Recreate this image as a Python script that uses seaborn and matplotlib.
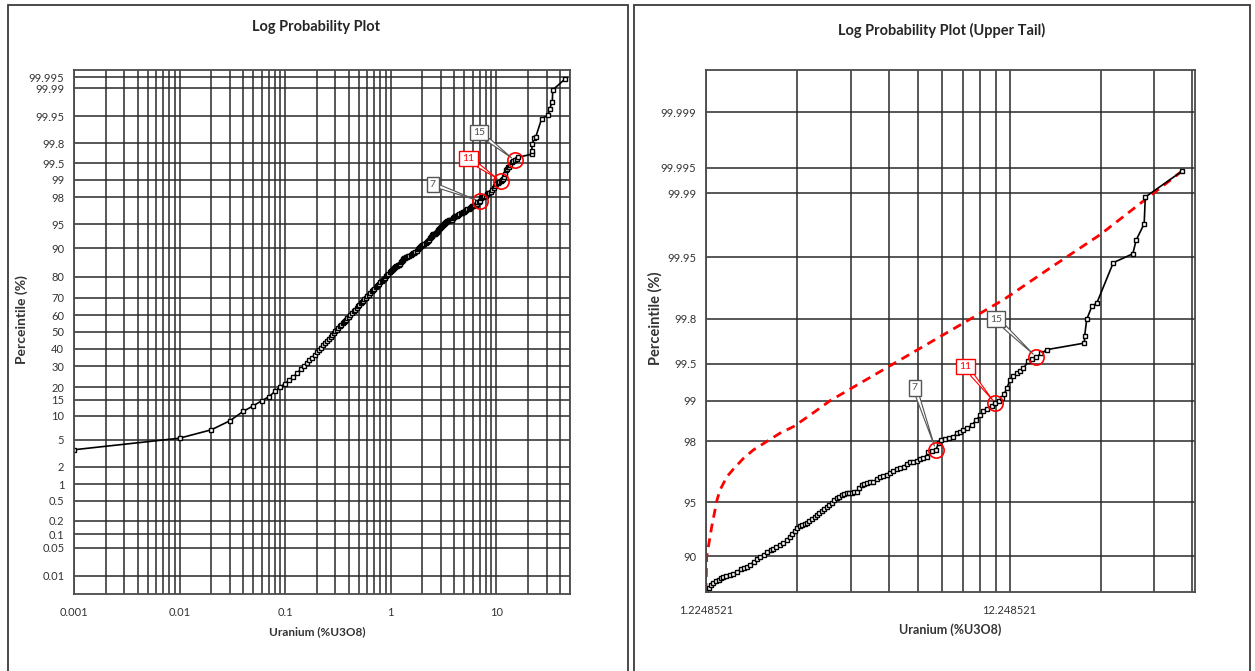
import math
import numpy as np
import matplotlib
matplotlib.use("Agg")
import matplotlib.pyplot as plt
from matplotlib.patches import Rectangle
from matplotlib.ticker import FixedLocator, FixedFormatter, NullLocator, NullFormatter
import seaborn as sns

# ---------------- data ----------------
# Uranium grade (%U3O8) and its cumulative percentile
grade = [
    0.001, 0.01, 0.02, 0.03, 0.04, 0.05, 0.06, 0.07, 0.08, 0.09, 0.10,
    0.11, 0.12, 0.13, 0.14, 0.15, 0.16, 0.17, 0.18, 0.19, 0.20,
    0.21, 0.22, 0.23, 0.24, 0.25, 0.26, 0.27, 0.28, 0.29, 0.30,
    0.31, 0.32, 0.33, 0.34, 0.35, 0.36, 0.37, 0.38, 0.39, 0.40,
    0.415, 0.43, 0.445, 0.46, 0.475, 0.49, 0.505, 0.52, 0.535, 0.55,
    0.565, 0.58, 0.60, 0.62, 0.64, 0.66, 0.68, 0.70, 0.72, 0.74,
    0.76, 0.78, 0.80, 0.82, 0.84, 0.86, 0.88, 0.90, 0.925, 0.95,
    0.975, 1.00, 1.025, 1.05, 1.075, 1.10, 1.125, 1.15, 1.175, 1.20,
    1.2248521, 1.25, 1.27, 1.295, 1.32, 1.35, 1.37, 1.397, 1.43, 1.47,
    1.507, 1.55, 1.60, 1.635, 1.668, 1.71, 1.76, 1.80, 1.845, 1.90,
    1.95, 2.00, 2.042, 2.09, 2.14, 2.20, 2.26, 2.31, 2.36, 2.40,
    2.438, 2.49, 2.54, 2.59, 2.63, 2.68, 2.74, 2.79, 2.837, 2.89,
    2.95, 3.00, 3.061, 3.12, 3.18, 3.24, 3.302, 3.37, 3.44, 3.50,
    3.563, 3.63, 3.70, 3.77, 3.843, 3.91, 3.99, 4.07, 4.16, 4.26,
    4.358, 4.47, 4.59, 4.70, 4.823, 4.93, 5.06, 5.20, 5.34, 5.48,
    5.62, 5.757, 5.90, 6.05, 6.20, 6.37, 6.54, 6.62, 6.80, 7.0,
    7.15, 7.30, 7.50, 7.72, 8.0, 8.2, 8.40, 8.63, 8.90, 9.19,
    9.50, 9.80, 10.05, 10.3, 10.7, 11.0, 11.27, 11.54, 11.77, 12.0,
    12.29, 12.6, 12.94, 13.25, 13.6, 14.1, 14.55, 15.0, 15.6, 16.25,
    21.6, 21.65, 22.0, 22.86, 23.74, 26.9, 31.2, 32.0, 34.0, 34.3, 45.2,
]
percentile = [
    3.61, 5.25, 6.77, 8.77, 11.26, 13.0, 14.7, 16.1, 18.2, 20.2, 21.5,
    23.3, 24.8, 26.4, 28.4, 30.2, 31.9, 33.4, 34.8, 36.3, 37.8,
    39.1, 40.5, 41.9, 43.2, 44.4, 45.6, 46.8, 48.0, 49.2, 50.4,
    51.4, 52.4, 53.4, 54.4, 55.2, 56.0, 56.8, 57.5, 58.3, 59.1,
    60.3, 61.4, 62.4, 63.3, 64.3, 65.2, 66.1, 67.0, 67.7, 68.4,
    69.1, 69.8, 70.7, 71.6, 72.4, 73.2, 73.9, 74.5, 75.2, 75.8,
    76.4, 77.0, 77.6, 78.2, 78.7, 79.1, 79.7, 80.2, 80.8, 81.3,
    81.9, 82.4, 82.8, 83.1, 83.5, 83.9, 84.2, 84.4, 84.6, 84.8,
    85.10, 85.76, 86.10, 86.39, 86.69, 86.96, 87.18, 87.32, 87.49, 87.65,
    87.79, 88.05, 88.35, 88.53, 88.68, 88.96, 89.30, 89.61, 89.91, 90.18,
    90.49, 90.69, 90.87, 91.07, 91.23, 91.43, 91.75, 92.10, 92.39, 92.67,
    92.89, 93.08, 93.18, 93.27, 93.34, 93.51, 93.69, 93.88, 94.02, 94.17,
    94.35, 94.50, 94.66, 94.82, 94.97, 95.12, 95.25, 95.37, 95.46, 95.53,
    95.57, 95.60, 95.62, 95.64, 95.67, 95.89, 96.07, 96.13, 96.18, 96.22,
    96.25, 96.39, 96.52, 96.56, 96.61, 96.69, 96.80, 96.89, 96.94, 97.02,
    97.13, 97.20, 97.24, 97.28, 97.33, 97.37, 97.44, 97.63, 97.67, 97.70,
    97.93, 98.04, 98.07, 98.10, 98.14, 98.24, 98.29, 98.33, 98.39, 98.47,
    98.59, 98.71, 98.79, 98.85, 98.90, 98.95, 99.00, 99.04, 99.12, 99.20,
    99.32, 99.36, 99.40, 99.42, 99.45, 99.52, 99.54, 99.56, 99.59, 99.62,
    99.667, 99.713, 99.797, 99.846, 99.857, 99.943, 99.954, 99.967, 99.978, 99.989, 99.9945,
]

# reference curve for the upper tail
ref_grade = [1.2248521, 1.231, 1.279, 1.331, 1.362, 1.434, 1.507, 1.623, 1.754,
             1.941, 2.148, 2.377, 2.697, 3.14, 4.59, 7.23, 11.69, 16.66, 24.34,
             34.8, 45.2]
ref_percentile = [85.10, 89.92, 93.04, 95.13, 95.78, 96.52, 96.90, 97.36, 97.70,
                  97.99, 98.25, 98.43, 98.71, 99.00, 99.417, 99.708, 99.867,
                  99.9355, 99.9711, 99.9887, 99.9945]

# highlighted cut-off grades
callout_grade = [7.0, 11.0, 15.0]
callout_text = ["7", "11", "15"]

tail_start = 1.2248521

left_yticks = [0.01, 0.05, 0.1, 0.2, 0.5, 1, 2, 5, 10, 15, 20, 30, 40, 50,
               60, 70, 80, 90, 95, 98, 99, 99.5, 99.8, 99.95, 99.99, 99.995]
left_yticklabels = ["0.01", "0.05", "0.1", "0.2", "0.5", "1", "2", "5", "10",
                    "15", "20", "30", "40", "50", "60", "70", "80", "90", "95",
                    "98", "99", "99.5", "99.8", "99.95", "99.99", "99.995"]
left_xticks = [0.001, 0.01, 0.1, 1, 10]
left_xticklabels = ["0.001", "0.01", "0.1", "1", "10"]

right_yticks = [90, 95, 98, 99, 99.5, 99.8, 99.95, 99.99, 99.995, 99.999]
right_yticklabels = ["90", "95", "98", "99", "99.5", "99.8", "99.95",
                     "99.99", "99.995", "99.999"]
right_xticklabels = ["1.2248521", "12.248521"]

# ---------------- normal probability scale ----------------
_A = (-3.969683028665376e+01, 2.209460984245205e+02, -2.759285104469687e+02,
      1.383577518672690e+02, -3.066479806614716e+01, 2.506628277459239e+00)
_B = (-5.447609879822406e+01, 1.615858368580409e+02, -1.556989798598866e+02,
      6.680131188771972e+01, -1.328068155288572e+01)
_C = (-7.784894002430293e-03, -3.223964580411365e-01, -2.400758277161838e+00,
      -2.549732539343734e+00, 4.374664141464968e+00, 2.938163982698783e+00)
_D = (7.784695709041462e-03, 3.224671290700398e-01, 2.445134137142996e+00,
      3.754408661907416e+00)


def _ppf(p):
    plow = 0.02425
    if p < plow:
        q = math.sqrt(-2 * math.log(p))
        return ((((((_C[0] * q + _C[1]) * q + _C[2]) * q + _C[3]) * q + _C[4]) * q + _C[5]) /
                ((((_D[0] * q + _D[1]) * q + _D[2]) * q + _D[3]) * q + 1))
    if p > 1 - plow:
        q = math.sqrt(-2 * math.log(1 - p))
        return -((((((_C[0] * q + _C[1]) * q + _C[2]) * q + _C[3]) * q + _C[4]) * q + _C[5]) /
                 ((((_D[0] * q + _D[1]) * q + _D[2]) * q + _D[3]) * q + 1))
    q = p - 0.5
    r = q * q
    return ((((((_A[0] * r + _A[1]) * r + _A[2]) * r + _A[3]) * r + _A[4]) * r + _A[5]) * q /
            (((((_B[0] * r + _B[1]) * r + _B[2]) * r + _B[3]) * r + _B[4]) * r + 1))


_ppf_vec = np.vectorize(_ppf, otypes=[float])
_erfc_vec = np.vectorize(math.erfc, otypes=[float])


def probit(pct):
    p = np.clip(np.asarray(pct, dtype=float) / 100.0, 1e-12, 1 - 1e-12)
    return _ppf_vec(p)


def inv_probit(z):
    z = np.asarray(z, dtype=float)
    return 50.0 * _erfc_vec(-z / math.sqrt(2.0))


# ---------------- figure ----------------
sns.set_style("white")
plt.rcParams["font.family"] = ["Lato", "DejaVu Sans"]

W, H = 1255, 671
fig = plt.figure(figsize=(W / 100, H / 100), dpi=100)


def px_axes(x0, y0, x1, y1):
    return fig.add_axes([x0 / W, 1 - y1 / H, (x1 - x0) / W, (y1 - y0) / H])


ax_l = px_axes(74, 70, 570, 594)
ax_r = px_axes(706, 70, 1195, 592)

GRID = "#2a2a2a"
TICK_COLOR = "#333333"


def style_axes(ax, xlim, ylim, xmajor, xlabels, xminor, yticks, ylabels):
    ax.set_xscale("log")
    ax.set_yscale("function", functions=(probit, inv_probit))
    ax.set_xlim(*xlim)
    ax.set_ylim(*ylim)
    ax.xaxis.set_major_locator(FixedLocator(xmajor))
    ax.xaxis.set_major_formatter(FixedFormatter(xlabels))
    ax.xaxis.set_minor_locator(FixedLocator(xminor))
    ax.xaxis.set_minor_formatter(NullFormatter())
    ax.yaxis.set_major_locator(FixedLocator(yticks))
    ax.yaxis.set_major_formatter(FixedFormatter(ylabels))
    ax.yaxis.set_minor_locator(NullLocator())
    ax.set_axisbelow(True)
    ax.grid(which="both", axis="x", color=GRID, lw=1.1)
    ax.grid(which="major", axis="y", color=GRID, lw=1.1)
    ax.tick_params(which="both", length=0, labelsize=8, labelcolor=TICK_COLOR)
    ax.tick_params(axis="x", pad=9)
    ax.tick_params(axis="y", pad=7)
    for s in ax.spines.values():
        s.set_color("#4a4a4a")
        s.set_linewidth(1.3)
    ax.set_xlabel("")
    ax.set_ylabel("")


line_kw = dict(sort=False, estimator=None, color="black", lw=1.2, marker="s",
               markersize=3.5, markerfacecolor="white", markeredgecolor="black",
               markeredgewidth=1.0)

g = np.array(grade)
p = np.array(percentile)

# full distribution
sns.lineplot(x=g, y=p, ax=ax_l, **line_kw)
left_minor = [m * 10.0 ** e for e in range(-3, 2) for m in range(2, 10) if m * 10.0 ** e <= 50]
style_axes(ax_l, (0.001, 50), (inv_probit(-4.0), inv_probit(4.0)),
           left_xticks, left_xticklabels, left_minor, left_yticks, left_yticklabels)

# upper tail
tail = g >= tail_start
sns.lineplot(x=ref_grade, y=ref_percentile, ax=ax_r, sort=False, estimator=None,
             color="red", lw=2.0, linestyle=(0, (3.2, 2.2)))
sns.lineplot(x=g[tail], y=p[tail], ax=ax_r, **line_kw)
right_minor = [m * tail_start for m in (2, 3, 4, 5, 6, 7, 8, 9, 20, 30, 40)]
style_axes(ax_r, (tail_start, 50), (p[tail][0], 99.99973),
           [tail_start, 10 * tail_start], right_xticklabels, right_minor,
           right_yticks, right_yticklabels)

# callouts at cut-off grades
callout_offsets = {
    ax_l: [(-47, 17), (-32, 22), (-36, 28)],
    ax_r: [(-21, 62), (-30, 37), (-40, 38)],
}
for ax, offsets in callout_offsets.items():
    for cg, txt, off in zip(callout_grade, callout_text, offsets):
        cp = percentile[grade.index(cg)]
        col = "red" if txt == "11" else "#555555"
        tcol = "red" if txt == "11" else "#505050"
        ax.plot([cg], [cp], marker="o", ms=11, mfc="none", mec="red", mew=1.2, zorder=5)
        ax.annotate(txt, xy=(cg, cp), xytext=off, textcoords="offset pixels",
                    ha="center", va="center", fontsize=7.5, color=tcol, zorder=6,
                    bbox=dict(boxstyle="square,pad=0.3", fc="white", ec=col, lw=1.0),
                    arrowprops=dict(arrowstyle="wedge,tail_width=0.35", fc="white",
                                    ec=col, lw=0.8, shrinkA=0, shrinkB=3))

# titles and axis labels
fig.text(316 / W, 1 - 27 / H, "Log Probability Plot", ha="center", va="center",
         fontsize=10.5, fontweight="bold", color="#262626")
fig.text(942 / W, 1 - 30 / H, "Log Probability Plot (Upper Tail)", ha="center",
         va="center", fontsize=10.5, fontweight="bold", color="#262626")
fig.text(317 / W, 1 - 632 / H, "Uranium (%U3O8)", ha="center", va="center",
         fontsize=8.5, fontweight="bold", color="#333333")
fig.text(950 / W, 1 - 630 / H, "Uranium (%U3O8)", ha="center", va="center",
         fontsize=9, fontweight="bold", color="#333333")
fig.text(22 / W, 1 - 320 / H, "Perceintile (%)", ha="center", va="center",
         rotation=90, fontsize=10, fontweight="bold", color="#333333")
fig.text(655 / W, 1 - 318 / H, "Perceintile (%)", ha="center", va="center",
         rotation=90, fontsize=10.5, fontweight="bold", color="#333333")

# panel frames
for x0, x1 in ((8, 628), (634, 1250)):
    fig.add_artist(Rectangle((x0 / W, -0.05), (x1 - x0) / W, 1.05 - 5 / H,
                             transform=fig.transFigure, fill=False,
                             ec="#3a3a3a", lw=1.3))

fig.savefig("out.png", dpi=100)
